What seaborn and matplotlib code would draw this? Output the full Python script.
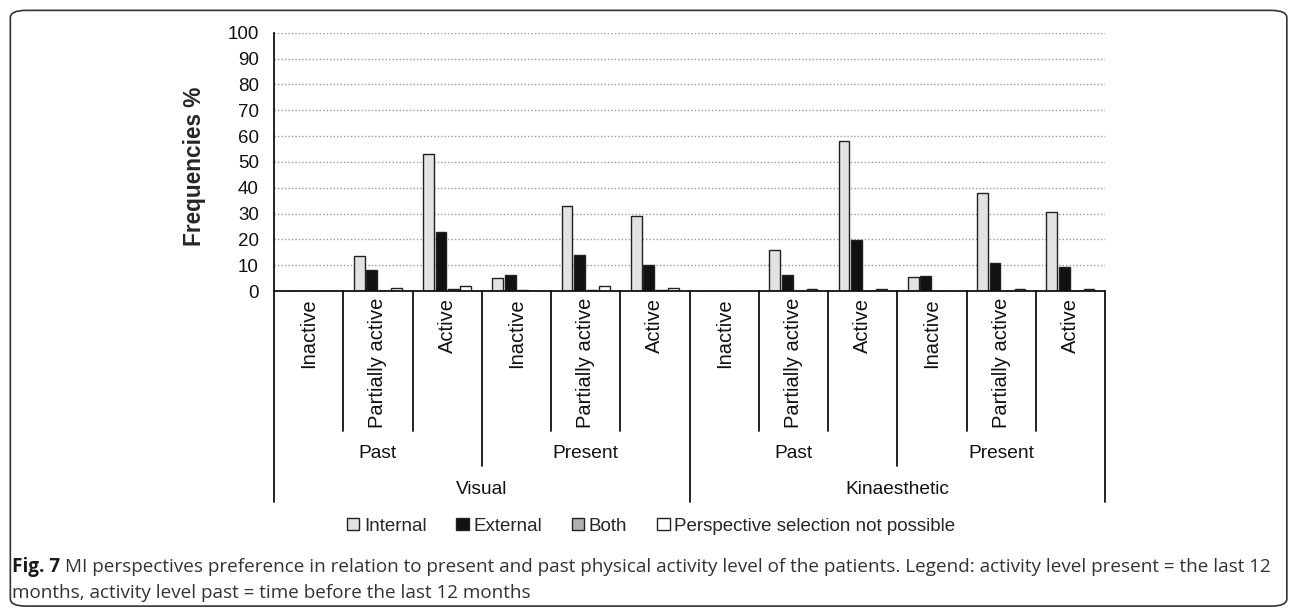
import numpy as np
import pandas as pd
import matplotlib
matplotlib.use("Agg")
import matplotlib.pyplot as plt
import matplotlib.transforms as mtransforms
from matplotlib.patches import FancyBboxPatch
import seaborn as sns

# values (percent)
modalities = ["Visual", "Kinaesthetic"]
periods = ["Past", "Present"]
levels = ["Inactive", "Partially active", "Active"]
perspectives = ["Internal", "External", "Both", "Perspective selection not possible"]

internal = [0, 13.4, 53.1, 5.0, 33.1, 29.1, 0, 15.8, 58.1, 5.6, 37.9, 30.5]
external = [0, 8.0, 22.7, 6.2, 14.1, 10.2, 0, 6.1, 19.6, 5.7, 11.0, 9.2]
both = [0, 0, 0.8, 0.5, 0.5, 0.5, 0, 0, 0, 0, 0, 0]
not_possible = [0, 1.2, 2.1, 0, 2.1, 1.0, 0, 0.6, 0.9, 0, 0.6, 0.9]

colors = {"Internal": "#e2e2e2", "External": "#111111",
          "Both": "#b0b0b0", "Perspective selection not possible": "#ffffff"}

# build long table
cats = [(m, p, l) for m in modalities for p in periods for l in levels]
keys = [f"{m}|{p}|{l}" for m, p, l in cats]
rows = []
for name, vals in zip(perspectives, [internal, external, both, not_possible]):
    for k, v in zip(keys, vals):
        rows.append({"cat": k, "perspective": name, "value": v})
df = pd.DataFrame(rows)

sns.set_style("white")
plt.rcParams["font.family"] = ["Liberation Sans", "DejaVu Sans"]

fig = plt.figure(figsize=(12.92, 6.11), dpi=100)
ax = fig.add_axes([0.2121, 0.5237, 0.6432, 0.4228])

sns.barplot(data=df, x="cat", y="value", hue="perspective", order=keys,
            hue_order=perspectives, palette=colors, width=0.72, gap=0.14,
            edgecolor="#222222", linewidth=1.0, ax=ax, legend=True)

ax.set_ylim(0, 100)
ax.set_xlim(-0.5, len(keys) - 0.5)
ax.set_yticks(np.arange(0, 101, 10))
ax.tick_params(axis="y", length=0, pad=11, labelsize=13.5, labelcolor="#111111")
ax.set_xticks([])
ax.set_xlabel("")
ax.set_ylabel("Frequencies %", fontsize=16.3, fontweight="bold")
ax.yaxis.set_label_coords(-0.0818, 0.484)
ax.yaxis.grid(True, linestyle=(0, (1, 1.5)), color="#9a9a9a", linewidth=1.0)
ax.set_axisbelow(True)
for s in ["top", "right"]:
    ax.spines[s].set_visible(False)
for s in ["left", "bottom"]:
    ax.spines[s].set_color("#111111")
    ax.spines[s].set_linewidth(1.3)

# multi-level category axis
trans = mtransforms.blended_transform_factory(ax.transData, ax.transAxes)
n = len(keys)
y_inner, y_mid, y_outer = -0.542, -0.677, -0.817
for i in range(n + 1):
    xb = i - 0.5
    if i % 6 == 0:
        yend = y_outer
    elif i % 3 == 0:
        yend = y_mid
    else:
        yend = y_inner
    ax.plot([xb, xb], [0, yend], transform=trans, color="#111111",
            lw=1.3, clip_on=False)

for i, (m, p, l) in enumerate(cats):
    ax.text(i, -0.027, l, transform=trans, rotation=90, ha="center", va="top",
            fontsize=14.5, color="#111111")
for j in range(len(modalities) * len(periods)):
    ax.text(j * 3 + 1, -0.63, periods[j % 2], transform=trans, ha="center",
            va="center", fontsize=13.8, color="#111111")
for j, m in enumerate(modalities):
    ax.text(j * 6 + 2.5, -0.77, m, transform=trans, ha="center",
            va="center", fontsize=13.8, color="#111111")

leg = ax.legend(loc="center", bbox_to_anchor=(0.504, 0.139),
                bbox_transform=fig.transFigure, ncol=4, frameon=False,
                fontsize=13.5, handlelength=0.65, handleheight=0.65,
                handletextpad=0.25, columnspacing=1.6, borderaxespad=0)
for h in leg.legend_handles:
    h.set_edgecolor("#222222")
    h.set_linewidth(1.0)

# caption and frame
cap_size = 13.6
fig_lbl = fig.text(0.0095, 0.072, "Fig. 7", fontsize=cap_size, fontweight="bold",
                   family="Open Sans", color="#1a1a1a", va="center")
fig.canvas.draw()
bb = fig_lbl.get_window_extent(renderer=fig.canvas.get_renderer())
x_after = (bb.x1 + 5) / fig.bbox.width
fig.text(x_after, 0.072,
         "MI perspectives preference in relation to present and past physical activity "
         "level of the patients. Legend: activity level present = the last 12",
         fontsize=cap_size, family="Open Sans", color="#333333", va="center")
fig.text(0.0095, 0.029, "months, activity level past = time before the last 12 months",
         fontsize=cap_size, family="Open Sans", color="#333333", va="center")

frame = FancyBboxPatch((0.008, 0.008), 0.988, 0.975,
                       boxstyle="round,pad=0,rounding_size=0.012",
                       transform=fig.transFigure, fill=False,
                       edgecolor="#333333", linewidth=1.2)
fig.patches.append(frame)

fig.savefig("out.png", dpi=100)
